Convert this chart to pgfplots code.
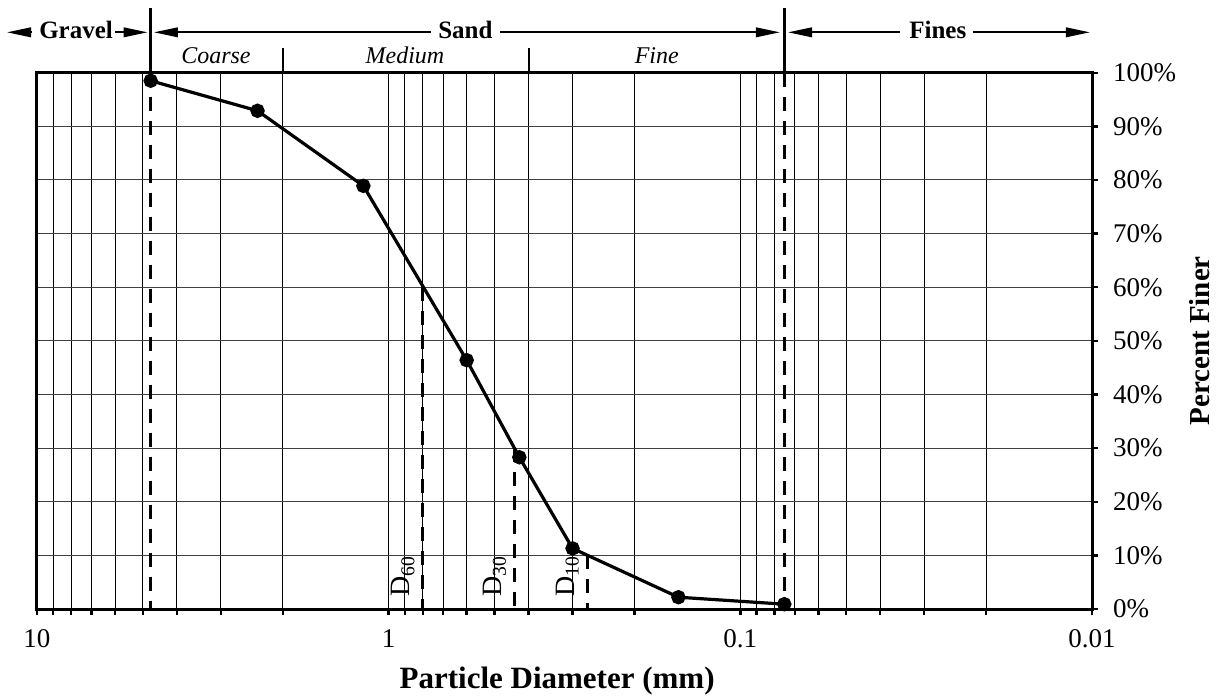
\documentclass[border=0pt]{standalone}
\usepackage{fontspec}
\setmainfont{Liberation Serif}
\usepackage{pgfplots}
\pgfplotsset{compat=1.18}
\usetikzlibrary{arrows.meta}
\begin{document}
\begin{tikzpicture}
\begin{axis}[
  at={(0,0)}, anchor=south west,
  scale only axis, width=527.5pt, height=268.15pt,
  xmode=log, x dir=reverse, xmin=0.01, xmax=10, ymin=0, ymax=100,
  xtick={0.01,0.1,1,10}, xticklabels={0.01,0.1,1,10},
  ytick={0,10,...,100},
  yticklabels={0\%,10\%,20\%,30\%,40\%,50\%,60\%,70\%,80\%,90\%,100\%},
  xtick pos=left, ytick pos=right, yticklabel pos=right,
  tick align=outside,
  major tick length=3pt, minor tick length=3pt,
  every tick/.style={black, line width=1.2pt},
  xmajorgrids, xminorgrids, ymajorgrids,
  major grid style={black, line width=0.5pt},
  minor grid style={black, line width=0.5pt},
  y grid style={black!75, line width=0.5pt},
  axis line style={line width=1.5pt},
  tick label style={font=\fontsize{13.5}{15}\selectfont},
  xticklabel style={anchor=base, yshift=-16pt},
  yticklabel style={xshift=4pt},
  xlabel={Particle Diameter (mm)}, ylabel={Percent Finer},
  label style={font=\fontsize{15.5}{18}\selectfont\bfseries},
  xlabel style={at={([yshift=-39.5pt]axis description cs:0.493,0)}, anchor=base},
  ylabel style={at={([xshift=54pt]axis description cs:1,0.5)}, anchor=center, font=\fontsize{14.5}{17}\selectfont\bfseries},
  clip=false,
]
% dashed reference lines
\addplot[black, line width=1.5pt, dash pattern=on 7pt off 5pt] coordinates {(4.75,100) (4.75,0)};
\addplot[black, line width=1.5pt, dash pattern=on 7pt off 5pt] coordinates {(0.075,100) (0.075,0)};
\addplot[black, line width=1.5pt, dash pattern=on 7pt off 5pt] coordinates {(0.80,60) (0.80,0)};
\addplot[black, line width=1.5pt, dash pattern=on 7pt off 5pt] coordinates {(0.4375,30) (0.4375,0)};
\addplot[black, line width=1.5pt, dash pattern=on 7pt off 5pt] coordinates {(0.2724,10) (0.2724,0)};
% gradation curve
\addplot[black, line width=1.6pt, mark=*, mark size=2.8pt, mark options={solid}] coordinates {
(4.75,98.5) (2.36,92.9) (1.18,78.9) (0.6,46.4) (0.425,28.3) (0.3,11.3) (0.15,2.2) (0.075,0.9)};
% D labels
\node[rotate=90, anchor=base west, font=\fontsize{14}{16}\selectfont] at (axis cs:0.870,0.93) {D\textsubscript{60}};
\node[rotate=90, anchor=base west, font=\fontsize{14}{16}\selectfont] at (axis cs:0.4773,0.93) {D\textsubscript{30}};
\node[rotate=90, anchor=base west, font=\fontsize{14}{16}\selectfont] at (axis cs:0.2968,0.93) {D\textsubscript{10}};
% boundaries above the plot
\draw[line width=1.5pt] (axis cs:4.75,100) -- (axis cs:4.75,112.07);
\draw[line width=1.5pt] (axis cs:0.075,100) -- (axis cs:0.075,112.07);
\draw[line width=1pt] (axis cs:2,100) -- (axis cs:2,104.6);
\draw[line width=1pt] (axis cs:0.4,100) -- (axis cs:0.4,104.6);
% arrows
\tikzset{zarrow/.style={line width=0.9pt, -{Triangle[length=12pt,width=4.8pt]}}}
\draw[zarrow] (axis cs:10.33,107.53) -- (axis cs:12.17,107.53);
\draw[zarrow] (axis cs:6.0,107.53) -- (axis cs:4.85,107.53);
\draw[zarrow] (axis cs:0.758,107.53) -- (axis cs:4.65,107.53);
\draw[zarrow] (axis cs:0.4826,107.53) -- (axis cs:0.0772,107.53);
\draw[zarrow] (axis cs:0.03518,107.53) -- (axis cs:0.0732,107.53);
\draw[zarrow] (axis cs:0.02181,107.53) -- (axis cs:0.01014,107.53);
% zone names
\node[font=\fontsize{12.5}{14}\selectfont\bfseries, anchor=base] at (axis cs:7.745,106.4) {Gravel};
\node[font=\fontsize{12.5}{14}\selectfont\bfseries, anchor=base] at (axis cs:0.605,106.4) {Sand};
\node[font=\fontsize{12.5}{14}\selectfont\bfseries, anchor=base] at (axis cs:0.02745,106.4) {Fines};
\node[font=\fontsize{12}{14}\selectfont\itshape, anchor=base] at (axis cs:3.098,101.8) {Coarse};
\node[font=\fontsize{12}{14}\selectfont\itshape, anchor=base] at (axis cs:0.899,101.8) {Medium};
\node[font=\fontsize{12}{14}\selectfont\itshape, anchor=base] at (axis cs:0.1728,101.8) {Fine};
\end{axis}
\pgfresetboundingbox
\path (-18.5pt,-44.5pt) rectangle (592pt,304.5pt);
\end{tikzpicture}
\end{document}
